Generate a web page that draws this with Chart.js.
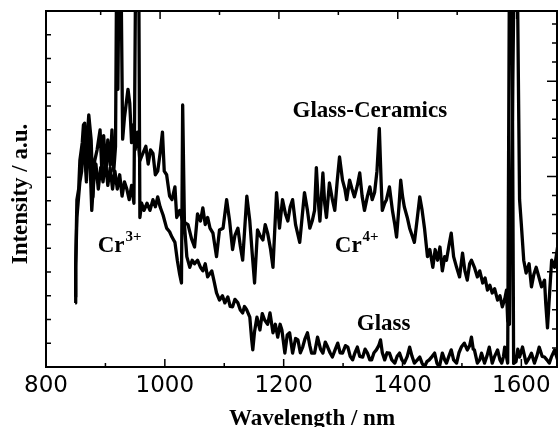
<!DOCTYPE html>
<html><head><meta charset="utf-8">
<script src="https://cdn.jsdelivr.net/npm/chart.js@4.4.1/dist/chart.umd.min.js"></script>
<style>html,body{margin:0;padding:0;background:#fff}#wrap{width:560px;height:427px;position:relative}</style>
</head><body><div id="wrap"><canvas id="c" width="560" height="427"></canvas></div>
<script>
// ---- data (wavelength in nm, intensity in a.u.) ----
const gcWave = [849,850,852,855,857,861,863,865,867,870,872,876,879,882,886,891,894,897,901,904,908,911,914,917,919,921,923,926,929,932,935,938,941,944,947,950,954,958,963,968,972,976,980,984,988,992,996,999,1003,1008,1012,1017,1020,1025,1030,1035,1039,1045,1050,1055,1060,1064,1068,1072,1076,1081,1087,1092,1098,1104,1109,1114,1118,1123,1127,1131,1138,1143,1147,1151,1156,1160,1165,1169,1173,1178,1182,1188,1193,1198,1203,1207,1211,1215,1220,1227,1231,1235,1240,1244,1248,1252,1255,1258,1261,1266,1269,1272,1277,1282,1286,1290,1294,1299,1303,1306,1311,1315,1319,1324,1328,1332,1336,1341,1345,1349,1353,1357,1361,1364,1366,1370,1373,1378,1383,1387,1390,1394,1397,1400,1403,1408,1412,1416,1420,1425,1429,1433,1437,1442,1446,1451,1455,1459,1463,1467,1471,1474,1478,1482,1486,1491,1496,1501,1505,1509,1513,1516,1521,1526,1530,1535,1539,1543,1547,1551,1555,1560,1564,1568,1572,1575,1577,1580,1585,1588,1593,1597,1600,1604,1608,1613,1617,1621,1625,1630,1634,1639,1641,1644,1648,1651,1656,1661];
const gcIntensity = [19.7,29,47,50,58,63,68,68.5,56.7,66,70.8,63.8,47.8,58,61,66.6,55,65,55,63.8,56.7,66.6,55,62,115,78,115,115,64,70,74,78,74,63,68,61,66,58,60,62,57,61,60,54,55,60,66,55,54,48,47,50.6,42,44,41,40.4,40,36,33.7,43,41,44.7,40,42,39,37.6,31,38.5,39,47,41,33,37,39,34,30,48,41,32,23.6,38.5,37,35.7,40,37.6,33,28,49,39,47,43,41,45,47,40,35,42,49,44,39,41,44,56,47,41,54.5,46,42,51.7,47,44,52,59,52.5,50,47,52.5,50,47.8,51,54.5,48,44,48,50.6,47,49,55,67,52,44,46,47,50.6,44,40,36.5,45,52.5,48,45,42,39,37,35,42,47.8,44,39,31,33,28,33,30,33.7,27,31,30,34,37.6,31,28,25.3,32,27,24.4,29,30,28,25.3,27,23.6,25,21.6,23,20.8,22,18.8,20,16.9,19,21.6,13,12,70,115,115,47,40,30,26.4,29,22.5,26,28,25,22.5,24.4,18,11,22,30,28,33.7];

const glassWave = [849,850,852,854,857,860,862,865,868,871,874,877,880,884,888,892,896,900,904,908,912,916,920,924,928,932,936,940,944,948,951,953,956,958,961,965,970,975,980,984,988,992,997,1003,1008,1012,1017,1021,1025,1028,1030,1033,1037,1042,1046,1050,1055,1060,1064,1068,1072,1079,1083,1087,1092,1097,1101,1106,1110,1114,1118,1123,1127,1131,1134,1138,1143,1146,1148,1151,1155,1160,1164,1168,1173,1177,1182,1186,1190,1194,1197,1202,1206,1210,1215,1220,1224,1228,1232,1236,1240,1244,1247,1252,1257,1262,1266,1270,1274,1278,1282,1287,1291,1295,1299,1304,1308,1312,1316,1320,1324,1328,1333,1337,1341,1345,1348,1352,1356,1360,1363,1366,1370,1374,1378,1382,1387,1391,1395,1399,1403,1408,1412,1416,1420,1425,1429,1433,1437,1441,1445,1450,1454,1458,1462,1467,1471,1474,1478,1482,1486,1491,1495,1499,1504,1509,1513,1516,1519,1521,1526,1530,1533,1538,1542,1546,1551,1555,1560,1564,1567,1570,1572,1577,1580,1584,1587,1591,1594,1597,1602,1608,1613,1617,1622,1626,1630,1635,1639,1643,1647,1651,1656,1661];
const glassIntensity = [18,28,42,46,52,55,62,60,52,65,58,44,52,57,50,56,52,58,51,56,50,55,50,54,48,52,50,47,51,46,115,115,115,42,46,44,46,44,47,45,47.8,45,42.7,39,38,36.5,35,30,26,23.6,73.6,40,31,28,30,29,30,28,27,29,25.3,27,24,20.8,18.8,20,18,19.7,17,16.9,19,18,16,15.2,17,16,14,8,4.8,10,14,10.4,15,13.2,12,15.2,9.6,12,8.4,12,10.4,3.9,9,9.6,3.9,8,7.6,4,5.6,8,9.6,6,3.9,3.9,8.4,5,3.9,7,5.6,4,2.8,5,6.7,4,3.9,6,5.6,3,2,4,5.6,3,2.8,5,3.9,2,2,4,4.8,6,7.6,4,2,4,3.9,2,1.1,3,3.9,2,1.1,3,5.6,3,1.1,2,2.8,1,0,1.5,2,3,3.9,1,0,3.9,2,1.1,3,4.8,2,1.1,4,5.6,6.7,4.8,6,8.4,5,4.8,1.1,2,3.9,1.1,3,5.6,1.1,3,4.8,2,1.1,3,5.6,1.1,115,115,1,1.5,5,2.8,5.6,1.1,2.5,3.9,1.1,3,5.6,3,2.8,2,1.1,3,4.8,2];

const seriesNames = ['Glass-Ceramics', 'Glass'];
const xLabelTicks = [800, 1000, 1200, 1400, 1600];
const xMinorTicks = [900, 1000, 1100, 1200, 1300, 1400, 1500, 1600];
const leftTicks = [6.667, 13.333, 20, 26.667, 33.333, 40, 46.667, 53.333, 60, 66.667, 73.333, 80, 86.667, 93.333];
const rightTicks = [1,2,3,4,5,6,7,8,9,10,11,12,13,14,15,16,17,18];
const annotations = [
  {text: 'Glass-Ceramics', sup: '', x: 1215, y: 70.2},
  {text: 'Cr', sup: '3+', x: 887, y: 32.3},
  {text: 'Cr', sup: '4+', x: 1286, y: 32.3},
  {text: 'Glass', sup: '', x: 1323, y: 10.4}
];
const yTitle = 'Intensity / a.u.';
const xTitle = 'Wavelength / nm';

const toPts = (w, v) => w.map((x, i) => ({x, y: v[i]}));
const SERIF = '"Liberation Serif","Times New Roman",serif';

const decor = {
  id: 'decor',
  afterDatasetsDraw(chart) {
    const {ctx, chartArea: a, scales} = chart;
    ctx.save();
    ctx.strokeStyle = '#000';
    ctx.lineWidth = 2;
    ctx.strokeRect(a.left, a.top, a.right - a.left, a.bottom - a.top);
    ctx.lineWidth = 1.5;
    ctx.beginPath();
    xMinorTicks.forEach(v => {
      const L = v % 200 === 0 ? 8 : 4;
      const pb = scales.x.getPixelForValue(v);
      ctx.moveTo(pb, a.bottom); ctx.lineTo(pb, a.bottom - L);
      const pt = scales.x2.getPixelForValue(v);
      ctx.moveTo(pt, a.top); ctx.lineTo(pt, a.top + L);
    });
    leftTicks.forEach(v => {
      const p = scales.y.getPixelForValue(v);
      ctx.moveTo(a.left, p); ctx.lineTo(a.left + 5, p);
    });
    rightTicks.forEach(v => {
      const p = scales.y2.getPixelForValue(v);
      const L = v % 5 === 0 ? 10 : 5;
      ctx.moveTo(a.right, p); ctx.lineTo(a.right - L, p);
    });
    ctx.stroke();

    ctx.fillStyle = '#000';
    ctx.textBaseline = 'alphabetic';
    ctx.textAlign = 'left';
    annotations.forEach(an => {
      const px = scales.x.getPixelForValue(an.x);
      const py = scales.y.getPixelForValue(an.y);
      ctx.font = 'bold 23px ' + SERIF;
      ctx.fillText(an.text, px, py);
      if (an.sup) {
        const w = ctx.measureText(an.text).width;
        ctx.font = 'bold 15px ' + SERIF;
        ctx.fillText(an.sup, px + w + 1, py - 11);
      }
    });

    ctx.font = 'bold 23px ' + SERIF;
    ctx.textAlign = 'center';
    ctx.fillText(xTitle, 312, 425);
    ctx.translate(27, 194);
    ctx.rotate(-Math.PI / 2);
    ctx.fillText(yTitle, 0, 0);
    ctx.restore();
  }
};

new Chart(document.getElementById('c'), {
  type: 'line',
  data: {
    datasets: [
      {label: seriesNames[0], data: toPts(gcWave, gcIntensity), borderColor: '#000', borderWidth: 3.3, pointRadius: 0, tension: 0, borderJoinStyle: 'round', xAxisID: 'x', yAxisID: 'y'},
      {label: seriesNames[1], data: toPts(glassWave, glassIntensity), borderColor: '#000', borderWidth: 3.3, pointRadius: 0, tension: 0, borderJoinStyle: 'round', xAxisID: 'x', yAxisID: 'y'}
    ]
  },
  options: {
    responsive: false,
    animation: false,
    devicePixelRatio: 1,
    layout: {padding: {left: 46, right: 3, top: 11, bottom: 0}},
    plugins: {legend: {display: false}, tooltip: {enabled: false}},
    scales: {
      x: {
        type: 'linear', position: 'bottom', min: 800, max: 1660,
        afterBuildTicks: s => { s.ticks = xLabelTicks.map(v => ({value: v})); },
        afterFit: s => { s.height = 60; },
        grid: {display: false, drawTicks: false},
        border: {display: false},
        ticks: {autoSkip: false, maxRotation: 0, padding: 5, color: '#000', callback: v => String(v), font: {family: '"DejaVu Sans", Verdana, sans-serif', size: 23}}
      },
      x2: {
        type: 'linear', position: 'top', min: 808, max: 1668,
        afterFit: s => { s.height = 0; },
        grid: {display: false, drawTicks: false}, border: {display: false},
        ticks: {display: false}
      },
      y: {
        type: 'linear', position: 'left', min: 0, max: 100,
        afterFit: s => { s.width = 0; },
        grid: {display: false, drawTicks: false}, border: {display: false},
        ticks: {display: false}
      },
      y2: {
        type: 'linear', position: 'right', min: 0, max: 18.68,
        afterFit: s => { s.width = 0; },
        grid: {display: false, drawTicks: false}, border: {display: false},
        ticks: {display: false}
      }
    }
  },
  plugins: [decor]
});
</script>
</body></html>
